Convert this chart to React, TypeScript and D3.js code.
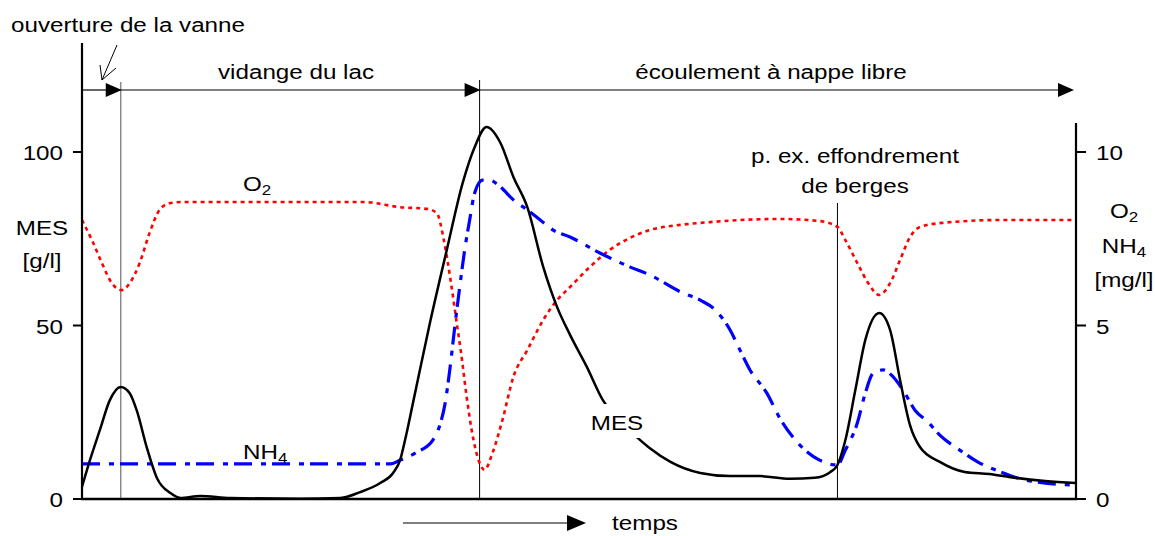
import React from "react";
import * as d3 from "d3";

// time axis 0..100 (arbitrary units)
const mesT = [0, 0.8, 1.8, 2.8, 3.9, 4.8, 5.5, 6.5, 7.5, 8.9, 9.9, 11.9, 14.9, 21.9, 26, 28, 30, 31.3, 32, 32.5, 33.3, 35, 36.7, 38.3, 39.5, 40.7, 42.1, 43.4, 44.8, 46.4, 47.8, 49.1, 50.8, 52.4, 54.1, 55.9, 57.1, 59.2, 62.2, 65.2, 68.2, 71.2, 73.7, 75.3, 76, 76.8, 77.8, 78.8, 80.2, 81.3, 82.3, 83.3, 84.3, 86.3, 88.8, 91.3, 93.4, 96.9, 100];
const mesV = [3.5, 11.2, 19.9, 28.5, 32.3, 30.5, 25.6, 15.0, 6.3, 1.7, 0.3, 0.9, 0.3, 0.1, 0.3, 2.0, 4.6, 7.5, 11.2, 17.0, 27.7, 50.7, 71.8, 91.1, 101.4, 107.2, 102.6, 92.8, 84.1, 66.9, 55.3, 47.3, 38.0, 28.5, 22.8, 17.6, 14.7, 10.7, 7.5, 6.6, 6.6, 5.8, 6.1, 7.8, 9.8, 17.0, 31.4, 45.8, 53.6, 48.7, 34.3, 21.3, 15.0, 10.7, 7.8, 7.2, 6.3, 5.2, 4.6];

const o2T = [0, 1.0, 2.0, 3.0, 4.0, 4.8, 5.8, 6.8, 7.8, 8.9, 10.2, 28.3, 32, 34.7, 35.7, 36.4, 37.1, 37.7, 38.1, 38.7, 39.2, 40, 40.5, 41.3, 42.3, 43.4, 44.8, 46.4, 47.8, 49.1, 51.1, 53.1, 55.1, 57.1, 60.2, 63.2, 66.2, 70.2, 74.2, 76, 76.8, 78, 79.1, 80.2, 81.3, 82.3, 83.3, 84.3, 86.3, 92.4, 100];
const o2V = [8.04, 7.46, 6.80, 6.22, 6.02, 6.22, 6.80, 7.67, 8.33, 8.53, 8.56, 8.56, 8.41, 8.36, 8.24, 7.46, 6.27, 5.07, 4.29, 2.94, 1.99, 1.04, 0.84, 1.33, 2.28, 3.52, 4.29, 5.16, 5.73, 6.11, 6.69, 7.18, 7.52, 7.75, 7.90, 7.98, 8.04, 8.07, 8.01, 7.84, 7.46, 6.80, 6.22, 5.88, 6.22, 6.89, 7.55, 7.84, 7.95, 8.04, 8.04];

const nh4T = [0, 31, 32, 33.7, 35.3, 36, 36.5, 37, 37.5, 38, 38.5, 39, 39.5, 40.3, 41, 42.1, 43.4, 44.8, 46.1, 47.4, 49.1, 52.1, 55.1, 57.1, 60.2, 62.2, 63.7, 65.2, 66.2, 67.2, 68.9, 70.2, 72.2, 74.2, 76, 76.8, 78, 78.8, 79.6, 80.6, 81.6, 82.6, 83.8, 85.1, 86.3, 88.3, 90.1, 92.4, 94.4, 96.9, 100];
const nh4V = [1.01, 1.01, 1.12, 1.35, 1.70, 2.13, 2.71, 3.72, 4.96, 6.11, 7.18, 8.04, 8.82, 9.19, 9.19, 8.99, 8.62, 8.33, 8.04, 7.75, 7.55, 7.09, 6.69, 6.46, 5.97, 5.73, 5.45, 4.87, 4.29, 3.72, 3.05, 2.33, 1.56, 1.12, 0.98, 1.41, 2.19, 3.05, 3.63, 3.72, 3.52, 3.14, 2.56, 2.22, 1.84, 1.41, 1.07, 0.78, 0.58, 0.46, 0.40];

const leftTicks = [0, 50, 100];
const rightTicks = [0, 5, 10];
// phase boundaries: start, valve opening, end of lake draining, end
const phaseT = [0, 3.9, 40, 100];
const phaseLabels = ["", "vidange du lac", "écoulement à nappe libre"];
const eventT = 76; // bank collapse

const W = 1155, H = 536;
const x = d3.scaleLinear().domain([0, 100]).range([82, 1076]);
const yL = d3.scaleLinear().domain([0, 100]).range([499, 152]);
const yR = d3.scaleLinear().domain([0, 10]).range([499, 152]);

const FONT = "'Liberation Sans', Arial, Helvetica, sans-serif";
const FS = 20;
const SX = 1.21;

function T({ x, y, anchor = "start", children }: { x: number; y: number; anchor?: string; children: React.ReactNode }) {
  return (
    <text transform={`translate(${x},${y}) scale(${SX},1)`} textAnchor={anchor} fontSize={FS} fill="#000">
      {children}
    </text>
  );
}

function Sub({ c }: { c: string }) {
  return <tspan fontSize={14} dy={4}>{c}</tspan>;
}

function Arrow({ x1, x2, y, head = 16, hw = 7 }: { x1: number; x2: number; y: number; head?: number; hw?: number }) {
  return (
    <g>
      <line x1={x1} y1={y} x2={x2 - head + 1} y2={y} stroke="#000" strokeWidth={1.2} />
      <path d={`M${x2},${y} L${x2 - head},${y - hw} L${x2 - head},${y + hw} Z`} fill="#000" />
    </g>
  );
}

export default function App() {
  const mesLine = d3.line<number>().x((_, i) => x(mesT[i])).y((d) => yL(d)).curve(d3.curveMonotoneX);
  const o2Line = d3.line<number>().x((_, i) => x(o2T[i])).y((d) => yR(d)).curve(d3.curveMonotoneX);
  const nh4Line = d3.line<number>().x((_, i) => x(nh4T[i])).y((d) => yR(d)).curve(d3.curveMonotoneX);

  const x0 = x(0), x1 = x(100), yb = yL(0);
  const arrowY = 90;

  return (
    <svg width={W} height={H} style={{ position: "absolute", left: 0, top: 0, background: "#fff" }} fontFamily={FONT}>
      <rect width={W} height={H} fill="#fff" />
      {/* vertical phase lines */}
      <line x1={x(phaseT[1])} y1={82} x2={x(phaseT[1])} y2={yb} stroke="#7a7a7a" strokeWidth={1.3} />
      <line x1={x(phaseT[2])} y1={80} x2={x(phaseT[2])} y2={yb} stroke="#000" strokeWidth={1} />
      <line x1={x(eventT)} y1={203} x2={x(eventT)} y2={yb} stroke="#000" strokeWidth={1} />

      {/* series */}
      <path d={o2Line(o2V) || ""} fill="none" stroke="#ff0000" strokeWidth={2.6} strokeDasharray="4,4" />
      <path d={nh4Line(nh4V) || ""} fill="none" stroke="#0000ff" strokeWidth={3.2} strokeDasharray="18,9,5,6" />
      <path d={mesLine(mesV) || ""} fill="none" stroke="#000" strokeWidth={2.5} />

      {/* MES label with white backing */}
      <rect x={589} y={404} width={58} height={34} fill="#fff" />
      <T x={617} y={430} anchor="middle">MES</T>

      {/* series labels */}
      <T x={243} y={191}>O<Sub c="2" /></T>
      <T x={243} y={459}>NH<Sub c="4" /></T>

      {/* axes */}
      <line x1={x0} y1={43} x2={x0} y2={yb + 1} stroke="#000" strokeWidth={2.2} />
      <line x1={x1} y1={123} x2={x1} y2={yb + 1} stroke="#000" strokeWidth={2.2} />
      <line x1={x0 - 1} y1={yb} x2={x1 + 1} y2={yb} stroke="#000" strokeWidth={2.6} />
      {leftTicks.map((t) => (
        <g key={"l" + t}>
          <line x1={x0 - 9} y1={yL(t)} x2={x0} y2={yL(t)} stroke="#000" strokeWidth={2} />
          <T x={63} y={yL(t) + 8} anchor="end">{t}</T>
        </g>
      ))}
      {rightTicks.map((t) => (
        <g key={"r" + t}>
          <line x1={x1} y1={yR(t)} x2={x1 + 10} y2={yR(t)} stroke="#000" strokeWidth={2} />
          <T x={1096} y={yR(t) + 8} anchor="start">{t}</T>
        </g>
      ))}

      {/* axis titles */}
      <T x={42} y={235} anchor="middle">MES</T>
      <T x={42} y={268} anchor="middle">[g/l]</T>
      <T x={1124} y={218} anchor="middle">O<Sub c="2" /></T>
      <T x={1124} y={253} anchor="middle">NH<Sub c="4" /></T>
      <T x={1124} y={287} anchor="middle">[mg/l]</T>

      {/* phase arrows */}
      {phaseT.slice(1).map((t, i) => (
        <Arrow key={"a" + i} x1={x(phaseT[i])} x2={i === 2 ? x(t) - 2 : x(t) + 1} y={arrowY} />
      ))}
      {phaseLabels.map((lab, i) =>
        lab ? (
          <T key={"p" + i} x={i === 1 ? 296 : 771} y={79} anchor="middle">{lab}</T>
        ) : null
      )}

      {/* valve opening annotation */}
      <T x={11} y={32}>ouverture de la vanne</T>
      <line x1={117} y1={45} x2={102} y2={80} stroke="#000" strokeWidth={1} />
      <polyline points="100,65 102,80 116,68" fill="none" stroke="#000" strokeWidth={1} />

      {/* event annotation */}
      <T x={855} y={163} anchor="middle">p. ex. effondrement</T>
      <T x={855} y={193} anchor="middle">de berges</T>

      {/* time arrow */}
      <Arrow x1={403} x2={586} y={523} head={19} hw={8} />
      <T x={645} y={530} anchor="middle">temps</T>
    </svg>
  );
}
